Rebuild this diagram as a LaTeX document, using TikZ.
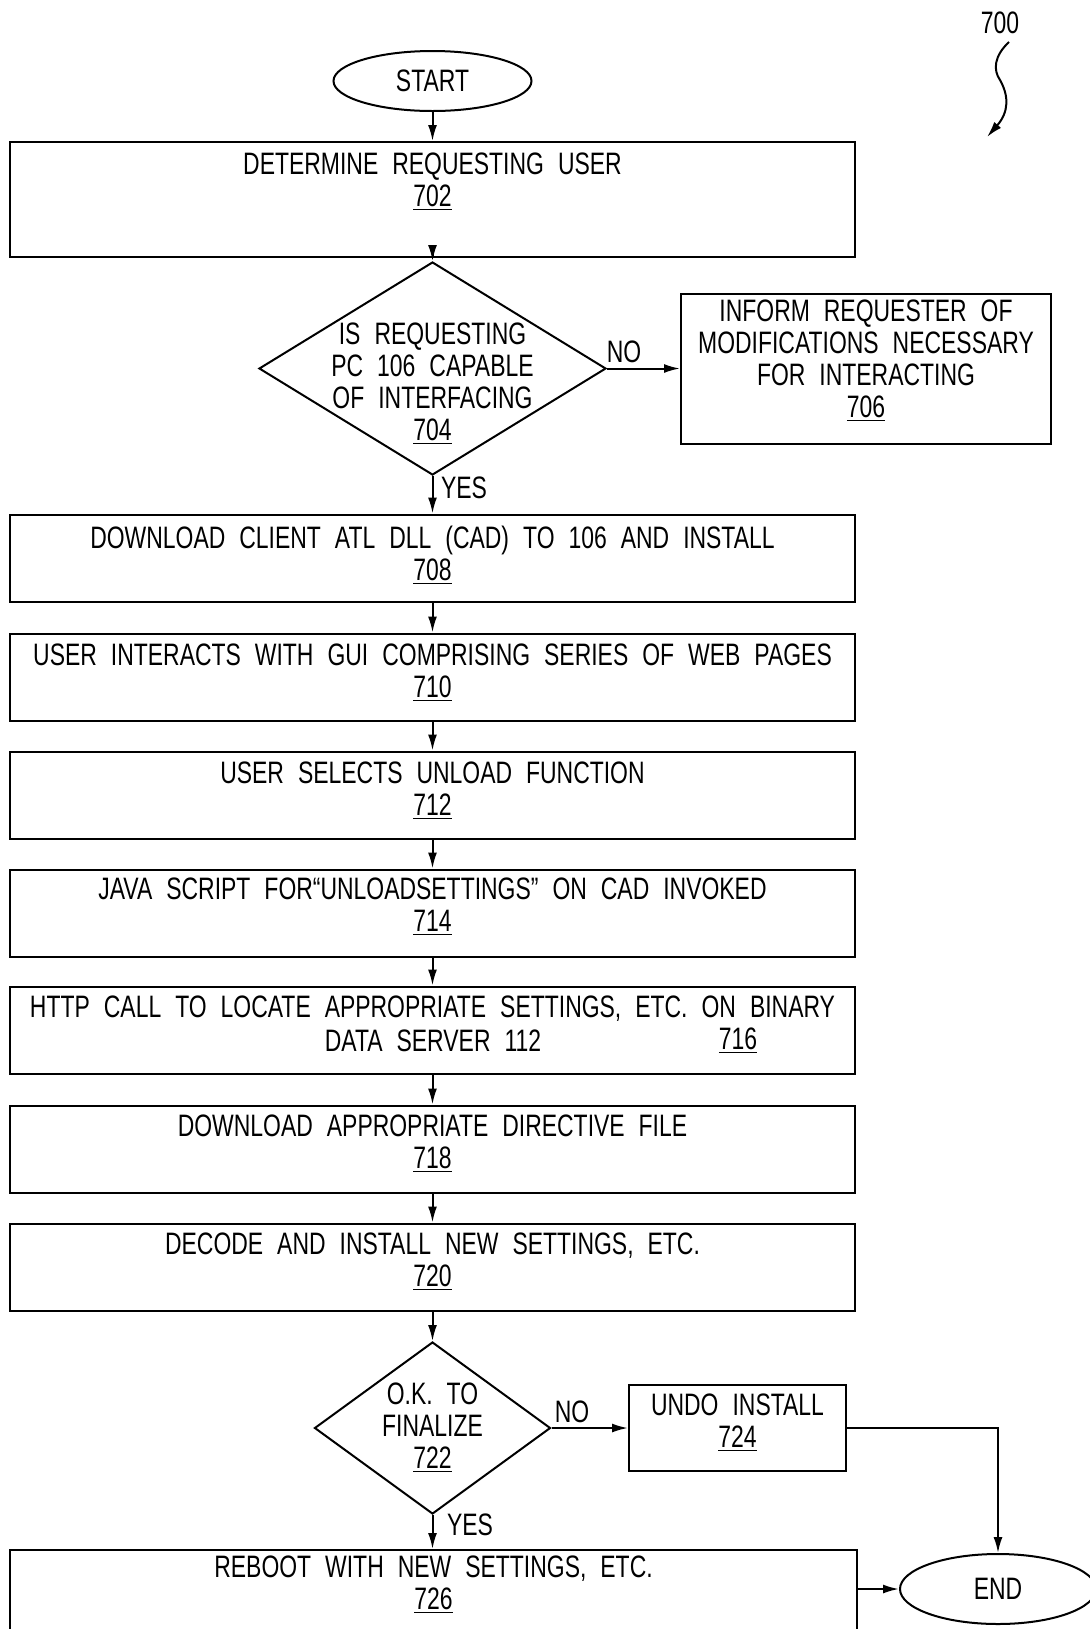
\documentclass[tikz,border=0pt]{standalone}
\usepackage{fontspec}
\setmainfont[FakeStretch=0.74]{Liberation Sans}
\usetikzlibrary{shapes.geometric,arrows.meta}
\newcommand\diagfont{\fontsize{15.5}{16}\selectfont\spaceskip=7pt plus 2pt minus 1pt\relax}
\begin{document}
\begin{tikzpicture}[x=0.5pt,y=-0.5pt, line width=1pt,
  box/.style={draw, rectangle, inner sep=0pt},
  wbox/.style={box, minimum width=422.5pt, minimum height=43.5pt},
  dia/.style={draw, diamond, inner sep=0pt},
  term/.style={draw, ellipse, inner sep=0pt},
  txt/.style={font=\diagfont, align=center, inner sep=0pt},
  arr/.style={-{Latex[length=8pt,width=4.5pt]}},
]
\useasboundingbox (0,0) rectangle (1090,1629);

% reference label
\node[txt] (n700) at (1000,23) {700};
\coordinate (sqs) at (1009,42);
\coordinate (sqe) at (987,137);
\draw[arr] (sqs) .. controls (994,56) and (993,70) .. (1000,80) .. controls (1009,96) and (1009,112) .. (sqe);

% start
\node[term, minimum width=99pt, minimum height=30pt] (start) at (432.5,81) {};
\node[txt] (tstart) at (432.5,81) {START};

% 702
\node[box, minimum width=422.5pt, minimum height=57.5pt] (b702) at (432.5,199.5) {};
\node[txt] (t702) at (432.5,181.5) {DETERMINE REQUESTING USER\\\underline{702}};

% 704
\node[dia, minimum width=173.5pt, minimum height=106.5pt] (d704) at (432.5,368.5) {};
\node[txt] (t704) at (432.5,384) {IS REQUESTING\\PC 106 CAPABLE\\OF INTERFACING\\\underline{704}};

% 706
\node[box, minimum width=185pt, minimum height=75pt] (b706) at (866,368.5) {};
\node[txt] (t706) at (866,361) {INFORM REQUESTER OF\\MODIFICATIONS NECESSARY\\FOR INTERACTING\\\underline{706}};

% 708 - 720
\node[wbox] (b708) at (432.5,558) {};
\node[txt] (t708) at (432.5,555) {DOWNLOAD CLIENT ATL DLL (CAD) TO 106 AND INSTALL\\\underline{708}};
\node[wbox] (b710) at (432.5,677) {};
\node[txt] (t710) at (432.5,673) {USER INTERACTS WITH GUI COMPRISING SERIES OF WEB PAGES\\\underline{710}};
\node[wbox] (b712) at (432.5,795) {};
\node[txt] (t712) at (432.5,791) {USER SELECTS UNLOAD FUNCTION\\\underline{712}};
\node[wbox] (b714) at (432.5,913) {};
\node[txt] (t714) at (432.5,907) {JAVA SCRIPT FOR``UNLOADSETTINGS'' ON CAD INVOKED\\\underline{714}};
\node[wbox] (b716) at (432.5,1030) {};
\node[txt] (t716a) at (432.5,1009) {HTTP CALL TO LOCATE APPROPRIATE SETTINGS, ETC. ON BINARY};
\node[txt] (t716b) at (433,1041) {DATA SERVER 112};
\node[txt] (t716c) at (738,1041) {\underline{716}};
\node[wbox] (b718) at (432.5,1149) {};
\node[txt] (t718) at (432.5,1144) {DOWNLOAD APPROPRIATE DIRECTIVE FILE\\\underline{718}};
\node[wbox] (b720) at (432.5,1267) {};
\node[txt] (t720) at (432.5,1262) {DECODE AND INSTALL NEW SETTINGS, ETC.\\\underline{720}};

% 722
\node[dia, minimum width=118pt, minimum height=86pt] (d722) at (432.5,1428) {};
\node[txt] (t722) at (432.5,1428) {O.K. TO\\FINALIZE\\\underline{722}};

% 724
\node[box, minimum width=108.5pt, minimum height=43pt] (b724) at (737.5,1428) {};
\node[txt] (t724) at (737.5,1423) {UNDO INSTALL\\\underline{724}};

% 726
\node[box, minimum width=423.5pt, minimum height=45pt] (b726) at (433.5,1595) {};
\node[txt] (t726) at (433.5,1585) {REBOOT WITH NEW SETTINGS, ETC.\\\underline{726}};

% end
\node[term, minimum width=98pt, minimum height=35pt] (end) at (998,1589) {};
\node[txt] (tend) at (998,1589) {END};

% connectors
\draw[arr] (start.south) -- (b702.north);
\draw[arr] (b702.south) -- (d704.north);
\draw[arr] (d704.east) -- (b706.west);
\draw[arr] (d704.south) -- (b708.north);
\draw[arr] (b708.south) -- (b710.north);
\draw[arr] (b710.south) -- (b712.north);
\draw[arr] (b712.south) -- (b714.north);
\draw[arr] (b714.south) -- (b716.north);
\draw[arr] (b716.south) -- (b718.north);
\draw[arr] (b718.south) -- (b720.north);
\draw[arr] (b720.south) -- (d722.north);
\draw[arr] (d722.east) -- (b724.west);
\draw[arr] (d722.south) -- (b726.north -| d722.south);
\draw[arr] (b724.east) -| (end.north);
\draw[arr] (end.west -| b726.east) -- (end.west);

% branch labels
\node[txt] (no1) at (624,352) {NO};
\node[txt] (yes1) at (464,488) {YES};
\node[txt] (no2) at (572,1412) {NO};
\node[txt] (yes2) at (470,1525) {YES};
\end{tikzpicture}
\end{document}
